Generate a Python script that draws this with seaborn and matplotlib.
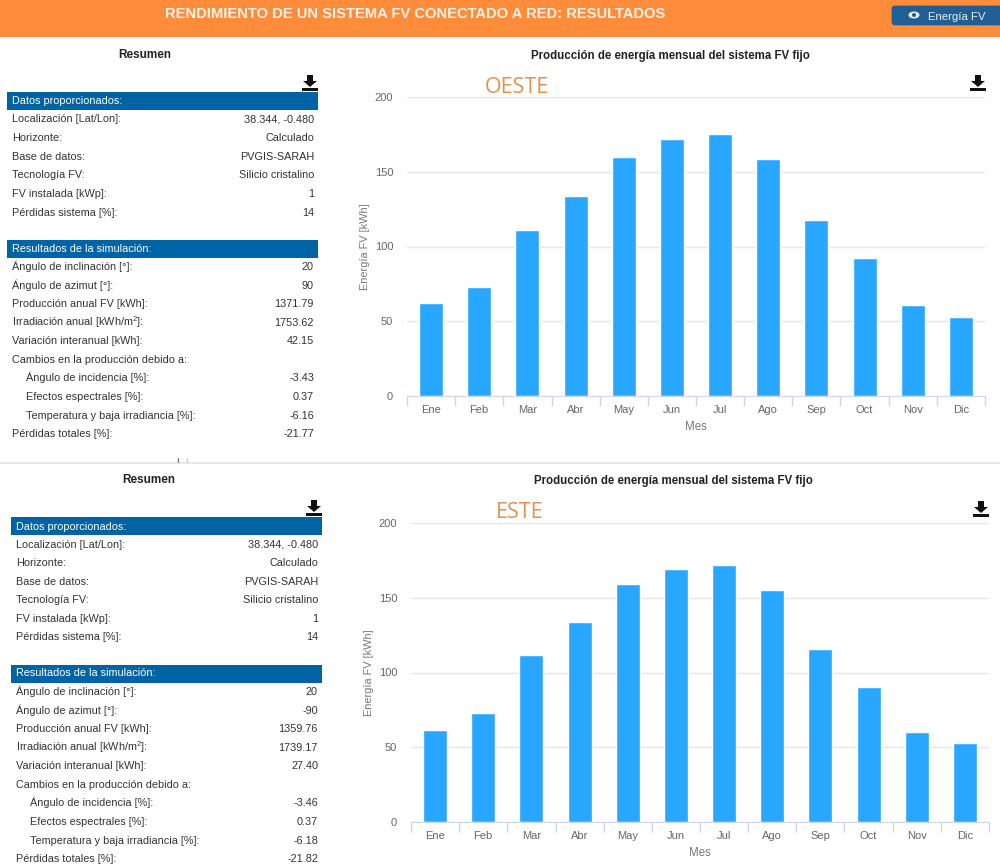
"""PVGIS results screenshot: two summary tables with monthly energy bars (west / east)."""

import matplotlib
matplotlib.use("Agg")
import matplotlib.pyplot as plt
import pandas as pd
import seaborn as sns
from matplotlib.patches import Ellipse, FancyBboxPatch, Polygon, Rectangle

MONTHS = ["Ene", "Feb", "Mar", "Abr", "May", "Jun", "Jul", "Ago", "Sep", "Oct", "Nov", "Dic"]
WEST_KWH = [62, 73, 111, 134, 160, 172, 175.5, 158.5, 118, 92, 61, 53]
EAST_KWH = [61.5, 73, 112, 133.5, 159.5, 169.5, 172, 155, 116, 90, 60, 53]

INPUT_LABELS = ["Localización [Lat/Lon]:", "Horizonte:", "Base de datos:", "Tecnología FV:",
                "FV instalada [kWp]:", "Pérdidas sistema [%]:"]
INPUT_VALUES = ["38.344, -0.480", "Calculado", "PVGIS-SARAH", "Silicio cristalino", "1", "14"]

RESULT_LABELS = ["Ángulo de inclinación [°]:", "Ángulo de azimut [°]:", "Producción anual FV [kWh]:",
                 "Irradiación anual [kWh/m$^2$]:", "Variación interanual [kWh]:",
                 "Cambios en la producción debido a:", "Ángulo de incidencia [%]:",
                 "Efectos espectrales [%]:", "Temperatura y baja irradiancia [%]:", "Pérdidas totales [%]:"]
WEST_RESULTS = ["20", "90", "1371.79", "1753.62", "42.15", "", "-3.43", "0.37", "-6.16", "-21.77"]
EAST_RESULTS = ["20", "-90", "1359.76", "1739.17", "27.40", "", "-3.46", "0.37", "-6.18", "-21.82"]
INDENTED = {6, 7, 8}

BAR_COLOR = "#29A7FF"
BAND_COLOR = "#0063A3"
ORANGE = "#FF8C3A"
TEXT_SIZE = 7.85

sns.set_style("white")
plt.rcParams["font.family"] = ["Liberation Sans", "DejaVu Sans"]
plt.rcParams["mathtext.default"] = "regular"

W, H = 1000, 867
fig = plt.figure(figsize=(W / 100, H / 100), dpi=100)

# overlay in pixel coordinates for the page furniture
page = fig.add_axes([0, 0, 1, 1], zorder=3)
page.set_xlim(0, W)
page.set_ylim(H, 0)
page.axis("off")
page.patch.set_alpha(0)


def download_icon(cx, top):
    page.add_patch(Polygon([(cx - 3, top), (cx + 3, top), (cx + 3, top + 6), (cx + 7, top + 6),
                            (cx, top + 12), (cx - 7, top + 6), (cx - 3, top + 6)], color="#111111", lw=0))
    page.add_patch(Rectangle((cx - 8, top + 13), 16, 3, color="#111111", lw=0))


def draw_bars(values, left, y200, y0, right):
    ax = fig.add_axes([left / W, 1 - y0 / H, (right - left) / W, (y0 - y200) / H])
    df = pd.DataFrame({"Mes": MONTHS, "Energia": values})
    sns.barplot(data=df, x="Mes", y="Energia", color=BAR_COLOR, width=0.5, saturation=1, ax=ax, zorder=2)
    ax.set_ylim(0, 200)
    ax.set_xlim(-0.5, 11.5)
    ax.set_yticks([0, 50, 100, 150, 200])
    ax.yaxis.grid(True, color="#E6E6E6", lw=1)
    ax.set_axisbelow(True)
    for side in ["top", "right", "left"]:
        ax.spines[side].set_visible(False)
    ax.spines["bottom"].set_color("#CCD6EB")
    # month separators, like the ticks of the web chart
    ax.set_xticks([i - 0.5 for i in range(13)], minor=True)
    ax.tick_params(axis="x", which="minor", length=7, width=1, color="#CCD6EB", bottom=True)
    ax.tick_params(axis="x", which="major", length=0, pad=6.5, labelsize=8, labelcolor="#666666")
    ax.tick_params(axis="y", length=0, pad=10, labelsize=8, labelcolor="#666666")
    ax.set_xlabel("Mes", fontsize=8.3, color="#777777", labelpad=4)
    ax.set_ylabel("Energía FV [kWh]", fontsize=7.9, color="#777777", labelpad=3)
    return ax


def row_text(x, y, text, color="#333333", ha="left"):
    # baseline anchoring keeps labels with brackets level with the plain values
    page.text(x, y + 4, text, ha=ha, va="baseline", fontsize=TEXT_SIZE, color=color)


def draw_table(results, dx, dy):
    right = 314 + dx
    page.text(145 + dx, 58 + dy, "Resumen", ha="center", va="baseline", fontsize=8.5, color="#222222",
              fontweight="bold")
    download_icon(310 + dx, 75 + dy)
    page.add_patch(Rectangle((7 + dx, 92 + dy), 311, 18, color=BAND_COLOR, lw=0))
    row_text(12 + dx, 100.5 + dy, "Datos proporcionados:", color="white")
    for i, (label, value) in enumerate(zip(INPUT_LABELS, INPUT_VALUES)):
        y = 118.5 + 18.6 * i + dy
        row_text(12 + dx, y, label)
        row_text(right, y, value, ha="right")
    page.add_patch(Rectangle((7 + dx, 240 + dy), 311, 18, color=BAND_COLOR, lw=0))
    row_text(12 + dx, 247.5 + dy, "Resultados de la simulación:", color="white")
    for i, (label, value) in enumerate(zip(RESULT_LABELS, results)):
        y = 266 + 18.57 * i + dy
        row_text((26 if i in INDENTED else 12) + dx, y, label)
        row_text(right, y, value, ha="right")


# header bar
page.add_patch(Rectangle((0, 0), W, 37, color=ORANGE, lw=0))
page.text(415, 13.5, "RENDIMIENTO DE UN SISTEMA FV CONECTADO A RED: RESULTADOS", ha="center", va="center",
          fontsize=10.6, color="#FFF3E8", fontweight="bold")
page.add_patch(FancyBboxPatch((893, 7), 110, 17, boxstyle="round,pad=0,rounding_size=2", color="#1F5F96",
                              lw=2))
page.add_patch(Ellipse((914, 15), 11, 7, color="#E8EEF4", lw=0))
page.add_patch(Ellipse((914, 15), 4, 4, color="#1F5F96", lw=0))
page.text(957, 19.5, "Energía FV", ha="center", va="baseline", fontsize=8.2, color="#E8EEF4")

# divider between the two screenshots
page.plot([0, W], [462.5, 462.5], color="#E8E8E8", lw=1.5)
page.plot([178, 178], [458, 462], color="#5B8DB8", lw=1)
page.plot([187, 187], [458, 462], color="#CCCCCC", lw=1)

draw_bars(WEST_KWH, 407, 97, 396, 985)
draw_bars(EAST_KWH, 411, 523, 822, 989)

draw_table(WEST_RESULTS, 0, 0)
draw_table(EAST_RESULTS, 4, 425)

page.text(670, 59, "Producción de energía mensual del sistema FV fijo", ha="center", va="baseline",
          fontsize=8.3, color="#222222", fontweight="bold")
page.text(673.5, 484, "Producción de energía mensual del sistema FV fijo", ha="center", va="baseline",
          fontsize=8.3, color="#222222", fontweight="bold")
page.text(516.5, 87.5, "OESTE", ha="center", va="center", fontsize=15.5, color="#E8904A",
          family=["Open Sans", "DejaVu Sans"])
page.text(520, 513, "ESTE", ha="center", va="center", fontsize=15.5, color="#E8904A",
          family=["Open Sans", "DejaVu Sans"])
download_icon(978, 75)
download_icon(981, 501)

fig.savefig("out.png", dpi=100)
